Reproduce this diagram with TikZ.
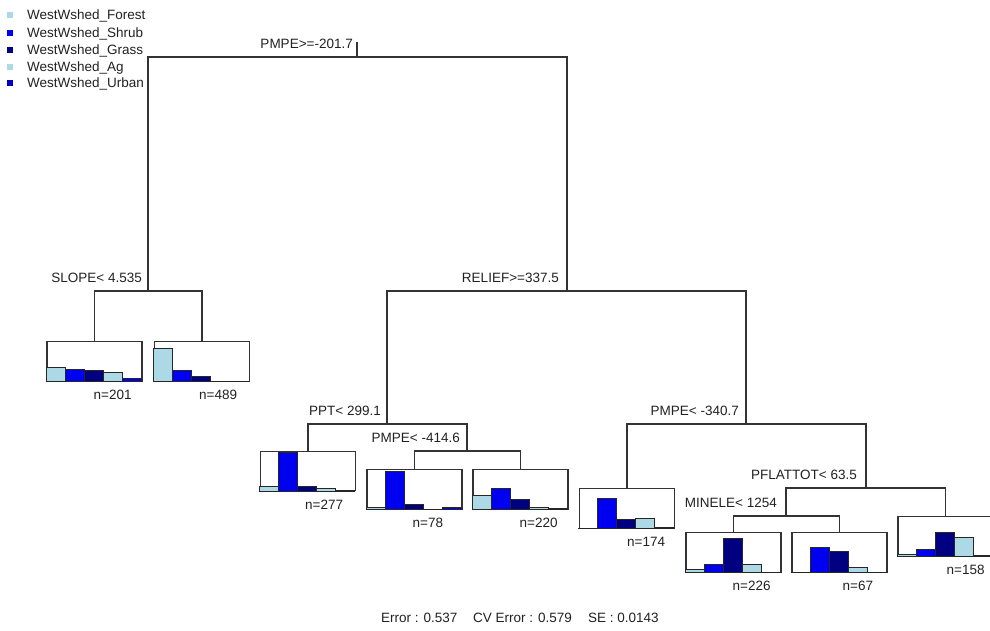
\documentclass[tikz,border=0pt]{standalone}
\usepackage{fontspec}
\setmainfont{Liberation Sans}
\usetikzlibrary{calc}
\definecolor{lb}{HTML}{ADD8E6}
\definecolor{bl}{HTML}{0000F0}
\definecolor{nv}{HTML}{000080}
\definecolor{ln}{HTML}{333333}
\definecolor{tx}{HTML}{222222}
\newcommand{\leafbars}[6]{%
  \foreach \h/\c [count=\i from 0] in {#2/lb,#3/bl,#4/nv,#5/lb,#6/bl}
    \draw[bar, fill=\c] ($(#1.south west)+(\i*19,0)$) rectangle ++(19,-\h);
}
\begin{document}
\begin{tikzpicture}[x=1pt,y=-1pt,
  font=\fontsize{13.5}{16}\selectfont,
  treeline/.style={draw=ln, line width=1.2pt},
  leafbox/.style={draw=ln, line width=1.2pt, minimum width=95pt, minimum height=39.5pt, inner sep=0pt, anchor=north},
  bar/.style={draw=black!85, line width=1pt},
  lbl/.style={anchor=base east, inner sep=0pt, text=tx},
  nlbl/.style={anchor=base west, inner sep=0pt, text=tx},
  legsq/.style={minimum size=6pt, inner sep=0pt},
  legtxt/.style={anchor=base west, inner sep=0pt, text=tx}]
\useasboundingbox[fill=white] (0,0) rectangle (990,630);

% legend
\node[legsq, fill=lb] (sq1) at (10,15) {};
\node[legsq, fill=bl] (sq2) at (10,32.5) {};
\node[legsq, fill=nv] (sq3) at (10,49.5) {};
\node[legsq, fill=lb] (sq4) at (10,66.5) {};
\node[legsq, fill=bl!80!black] (sq5) at (10,83) {};
\node[legtxt] (lg1) at (27,19.7) {WestWshed\_Forest};
\node[legtxt] (lg2) at (27,37.2) {WestWshed\_Shrub};
\node[legtxt] (lg3) at (27,54.2) {WestWshed\_Grass};
\node[legtxt] (lg4) at (27,71.2) {WestWshed\_Ag};
\node[legtxt] (lg5) at (27,87.7) {WestWshed\_Urban};

% split points
\coordinate (stub) at (357,42);
\coordinate (root) at (357,57);
\coordinate (slope) at (148,291);
\coordinate (relief) at (567,291);
\coordinate (ppt) at (387,424);
\coordinate (pmpeA) at (467,451);
\coordinate (pmpeB) at (746,424);
\coordinate (pflat) at (866,488);
\coordinate (minele) at (786,516);

% leaves
\node[leafbox] (l201) at (94.5,341) {};
\node[leafbox] (l489) at (202,341) {};
\node[leafbox] (l277) at (308,450.5) {};
\node[leafbox] (l78) at (414.5,469) {};
\node[leafbox] (l220) at (520.5,469) {};
\node[leafbox] (l174) at (627,488) {};
\node[leafbox] (l226) at (733.5,532) {};
\node[leafbox] (l67) at (839.5,532) {};
\node[leafbox] (l158) at (945.5,516) {};

\leafbars{l201}{14}{12}{11}{9.7}{3.7}
\leafbars{l489}{33.7}{11}{5}{0.5}{0.5}
\leafbars{l277}{5}{39}{4.3}{2.3}{0.7}
\leafbars{l78}{2.7}{38}{5.7}{0.3}{2.3}
\leafbars{l220}{14}{21.7}{10.7}{2.3}{1}
\leafbars{l174}{0.3}{30}{9}{10}{1.3}
\leafbars{l226}{3.3}{8.3}{34}{8.3}{0.5}
\leafbars{l67}{0.3}{25.7}{21.7}{5}{0.3}
\leafbars{l158}{2.3}{7.3}{24}{19.3}{1.7}

% tree lines
\draw[treeline] (stub) -- (root);
\draw[treeline] (root) -| (slope);
\draw[treeline] (root) -| (relief);
\draw[treeline] (slope) -| (l201.north);
\draw[treeline] (slope) -| (l489.north);
\draw[treeline] (relief) -| (ppt);
\draw[treeline] (relief) -| (pmpeB);
\draw[treeline] (ppt) -| (l277.north);
\draw[treeline] (ppt) -| (pmpeA);
\draw[treeline] (pmpeA) -| (l78.north);
\draw[treeline] (pmpeA) -| (l220.north);
\draw[treeline] (pmpeB) -| (l174.north);
\draw[treeline] (pmpeB) -| (pflat);
\draw[treeline] (pflat) -| (minele);
\draw[treeline] (pflat) -| (l158.north);
\draw[treeline] (minele) -| (l226.north);
\draw[treeline] (minele) -| (l67.north);

% split labels
\node[lbl] (t_root) at ([xshift=-4pt,yshift=9pt]root) {PMPE>=-201.7};
\node[lbl] (t_slope) at ([xshift=-6pt,yshift=8.5pt]slope) {SLOPE< 4.535};
\node[lbl] (t_relief) at ([xshift=-8pt,yshift=8.5pt]relief) {RELIEF>=337.5};
\node[lbl] (t_ppt) at ([xshift=-6pt,yshift=8.5pt]ppt) {PPT< 299.1};
\node[lbl] (t_pmpeA) at ([xshift=-7pt,yshift=8.5pt]pmpeA) {PMPE< -414.6};
\node[lbl] (t_pmpeB) at ([xshift=-7pt,yshift=8.5pt]pmpeB) {PMPE< -340.7};
\node[lbl] (t_pflat) at ([xshift=-9pt,yshift=8.5pt]pflat) {PFLATTOT< 63.5};
\node[lbl] (t_minele) at ([xshift=-9pt,yshift=8.5pt]minele) {MINELE< 1254};

% n labels
\node[nlbl] (n201) at ([xshift=-1pt,yshift=-18pt]l201.south) {n=201};
\node[nlbl] (n489) at ([xshift=-3pt,yshift=-18pt]l489.south) {n=489};
\node[nlbl] (n277) at ([xshift=-3pt,yshift=-18pt]l277.south) {n=277};
\node[nlbl] (n78) at ([xshift=-2pt,yshift=-18pt]l78.south) {n=78};
\node[nlbl] (n220) at ([xshift=-1pt,yshift=-18pt]l220.south) {n=220};
\node[nlbl] (n174) at ([xshift=0pt,yshift=-18pt]l174.south) {n=174};
\node[nlbl] (n226) at ([xshift=-1pt,yshift=-18pt]l226.south) {n=226};
\node[nlbl] (n67) at ([xshift=3pt,yshift=-18pt]l67.south) {n=67};
\node[nlbl] (n158) at ([xshift=1pt,yshift=-18pt]l158.south) {n=158};

% error line
\node[nlbl] (err) at (381,622.5) {Error : 0.537};
\node[nlbl] (cverr) at (473,622.5) {CV Error : 0.579};
\node[nlbl] (se) at (588,622.5) {SE : 0.0143};
\end{tikzpicture}
\end{document}
